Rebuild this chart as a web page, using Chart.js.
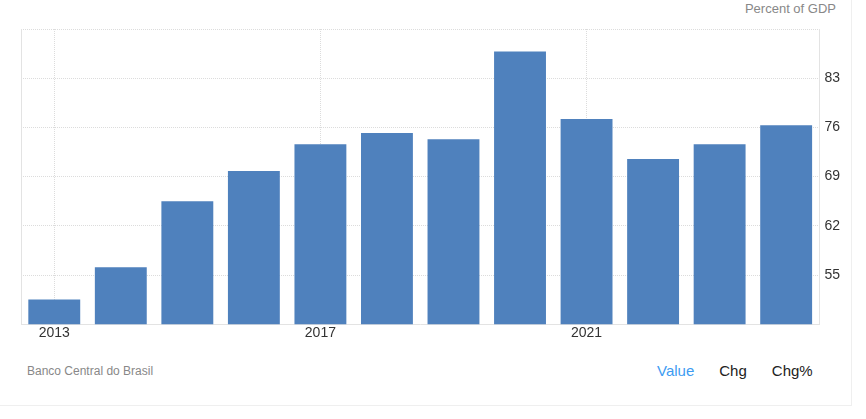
<!DOCTYPE html>
<html lang="en">
<head>
  <meta charset="UTF-8">
  <title>Brazil Government Debt to GDP</title>
  <script src="https://cdn.jsdelivr.net/npm/chart.js"></script>
  <style>
    body { margin: 0; background: #fff; font-family: Arial, "Liberation Sans", sans-serif; }
    .frame { position: relative; width: 851px; height: 405px; border-right: 1px solid #efefef; border-bottom: 1px solid #efefef; }
    .chart-box { position: absolute; left: 0; top: 0; width: 866px; height: 360px; }
    .unit { position: absolute; right: 15px; top: 1px; font-size: 13px; color: #888; }
    .source { position: absolute; left: 27px; top: 364px; font-size: 12px; color: #888; }
    .tabs { position: absolute; left: 657px; top: 362px; font-size: 15px; color: #222; }
    .tabs span { margin-right: 25px; }
    .tabs .active { color: #3d9cf2; }
  </style>
</head>
<body>
  <div class="frame">
    <div class="unit">Percent of GDP</div>
    <div class="chart-box"><canvas id="chart"></canvas></div>
    <div class="source">Banco Central do Brasil</div>
    <div class="tabs"><span class="active">Value</span><span>Chg</span><span>Chg%</span></div>
  </div>
  <script>
    const years = ['2013', '2014', '2015', '2016', '2017', '2018', '2019', '2020', '2021', '2022', '2023', '2024'];
    const debtToGdp = [51.5, 56.1, 65.5, 69.8, 73.6, 75.2, 74.3, 86.8, 77.2, 71.5, 73.6, 76.3];
    const shownYears = ['2013', '2017', '2021'];
    const shownValues = [55, 62, 69, 76, 83];

    // light solid line on the left edge of the plot area
    const leftEdge = {
      id: 'leftEdge',
      afterDraw(chart) {
        const { ctx, chartArea } = chart;
        ctx.save();
        ctx.strokeStyle = '#e3e3e3';
        ctx.lineWidth = 1;
        ctx.beginPath();
        ctx.moveTo(Math.round(chartArea.left) + 0.5, chartArea.top);
        ctx.lineTo(Math.round(chartArea.left) + 0.5, chartArea.bottom);
        ctx.stroke();
        ctx.restore();
      }
    };

    new Chart(document.getElementById('chart'), {
      type: 'bar',
      data: {
        labels: years,
        datasets: [{
          label: 'Value',
          data: debtToGdp,
          backgroundColor: '#4f81bd',
          barPercentage: 0.78,
          categoryPercentage: 1.0
        }]
      },
      options: {
        responsive: true,
        maintainAspectRatio: false,
        animation: false,
        layout: { padding: { left: 21, top: 29, right: 21, bottom: 17 } },
        plugins: { legend: { display: false }, tooltip: { enabled: false } },
        scales: {
          x: {
            grid: {
              offset: false,
              drawTicks: false,
              color: ctx => shownYears.includes(years[ctx.index]) ? '#dcdcdc' : 'transparent'
            },
            border: { color: '#e3e3e3', dash: [1, 1] },
            ticks: {
              autoSkip: false,
              maxRotation: 0,
              padding: 1,
              color: '#333',
              font: { family: 'Arial, "Liberation Sans", sans-serif', size: 14 },
              callback: (v, i) => shownYears.includes(years[i]) ? years[i] : ''
            }
          },
          y: {
            position: 'right',
            min: 48,
            max: 90,
            grid: { drawTicks: false, color: '#dcdcdc' },
            border: { color: '#e3e3e3', dash: [1, 1] },
            ticks: {
              stepSize: 7,
              padding: 5,
              color: '#333',
              font: { family: 'Arial, "Liberation Sans", sans-serif', size: 14 },
              callback: v => shownValues.includes(v) ? String(v) : ''
            }
          }
        }
      },
      plugins: [leftEdge]
    });
  </script>
</body>
</html>
